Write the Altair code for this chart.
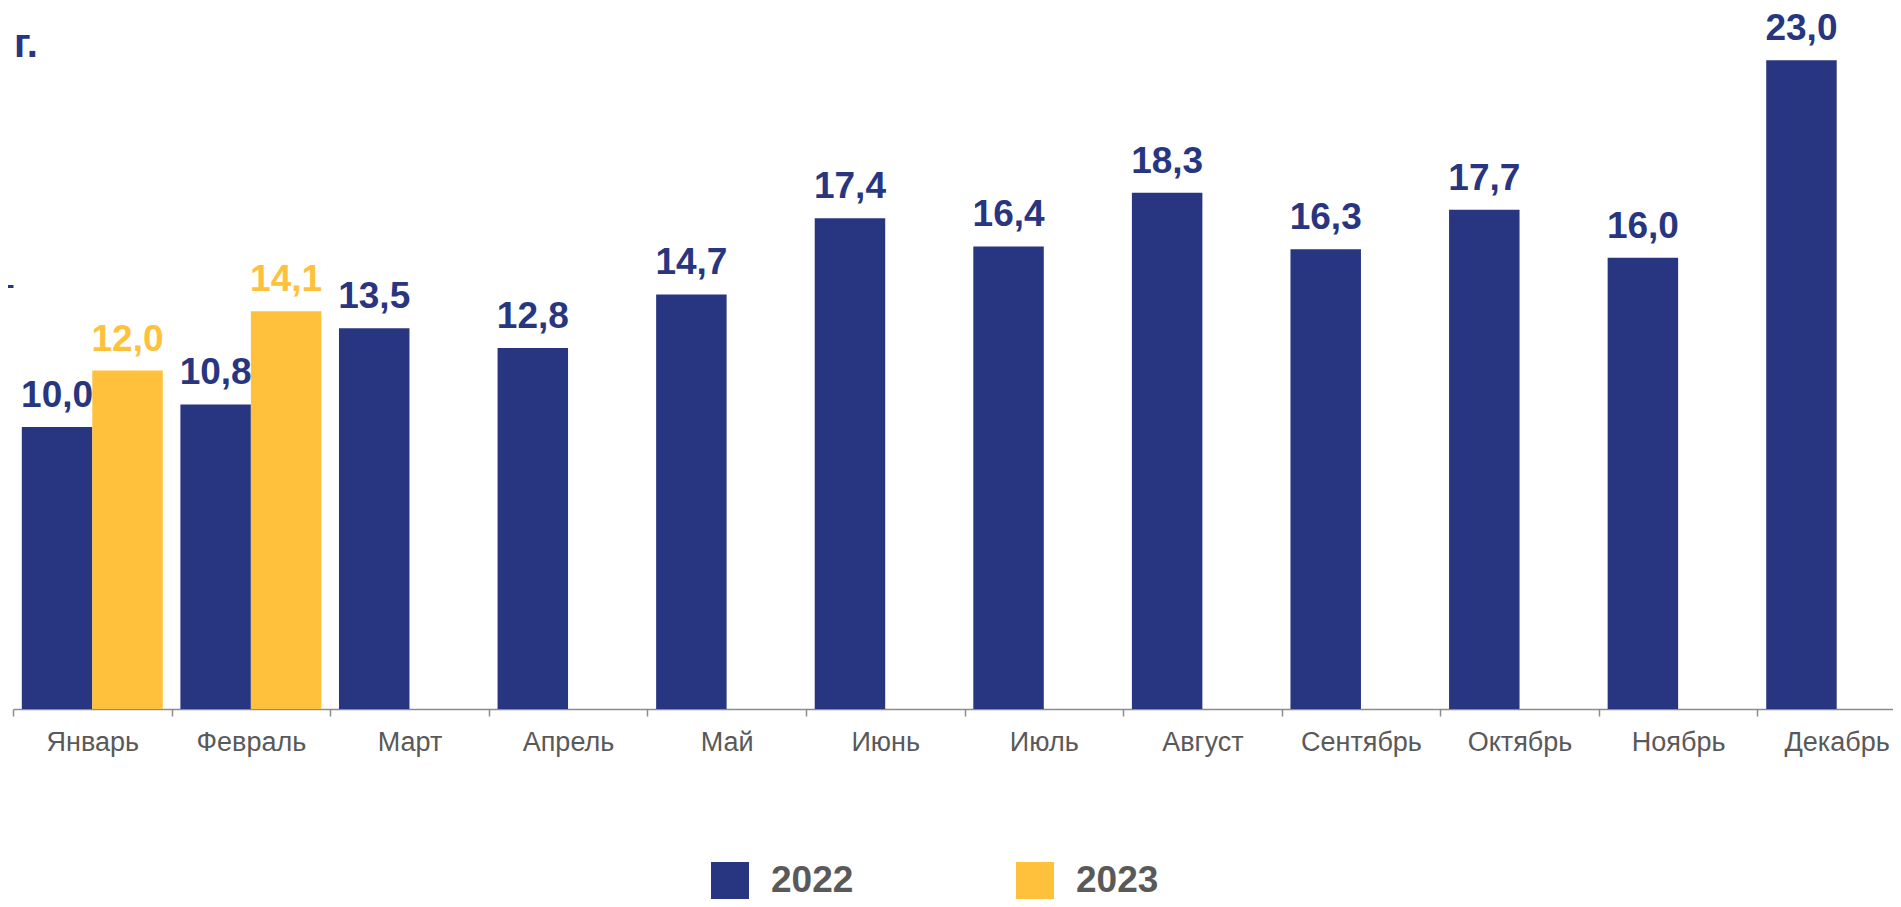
import altair as alt
import pandas as pd

months = ["Январь", "Февраль", "Март", "Апрель", "Май", "Июнь", "Июль",
          "Август", "Сентябрь", "Октябрь", "Ноябрь", "Декабрь"]
values_2022 = [10.0, 10.8, 13.5, 12.8, 14.7, 17.4, 16.4, 18.3, 16.3, 17.7, 16.0, 23.0]
values_2023 = [12.0, 14.1]
years = ["2022", "2023"]
colors = ["#283580", "#FFC13B"]

rows = []
for m, v in zip(months, values_2022):
    rows.append({"month": m, "year": "2022", "value": v})
for m, v in zip(months, values_2023):
    rows.append({"month": m, "year": "2023", "value": v})
df = pd.DataFrame(rows)

x = alt.X(
    "month:N", sort=months,
    scale=alt.Scale(domain=months, range=[0, 1903], paddingInner=0, paddingOuter=0),
    axis=alt.Axis(title=None, labelAngle=0, labelFontSize=27, labelColor="#595959",
                  labelFont="Liberation Sans", labelPadding=13, tickBand="extent",
                  tickSize=7, tickColor="#8c8c8c", tickWidth=1.5,
                  domainColor="#8c8c8c", domainWidth=1.5, grid=False),
)
xo = alt.XOffset("year:N", scale=alt.Scale(domain=years, paddingInner=0, paddingOuter=0.125))
y = alt.Y(
    "value:Q",
    scale=alt.Scale(domain=[0, 24.5], nice=False, zero=True),
    axis=alt.Axis(title=None, values=[15], labels=False, domain=False, grid=False,
                  tickSize=11, tickWidth=3, tickColor="#283580"),
)
legend = alt.Legend(
    title=None, orient="none", legendX=698, legendY=844, direction="horizontal",
    symbolType="square", symbolSize=1444, symbolStrokeWidth=0, symbolOpacity=1,
    labelFontSize=37, labelFont="Liberation Sans", labelFontWeight="bold",
    labelColor="#595959", labelOffset=22, columnPadding=162, padding=0,
)
color = alt.Color("year:N", scale=alt.Scale(domain=years, range=colors), legend=legend)

bars = alt.Chart(df).mark_bar(opacity=1).encode(x=x, xOffset=xo, y=y, color=color)
labels = alt.Chart(df).transform_calculate(
    label="replace(format(datum.value, '.1f'), '.', ',')"
).mark_text(baseline="alphabetic", dy=-20, fontSize=37, fontWeight="bold",
            font="Liberation Sans").encode(x=x, xOffset=xo, y=y, text="label:N", color=color)

chart = alt.layer(bars, labels).properties(
    width=1880, height=691,
    autosize=alt.AutoSizeParams(type="none"),
    padding={"left": 5, "top": 10, "right": 0, "bottom": 190},
    background="white",
    title=alt.TitleParams("г.", anchor="start", frame="group", fontSize=40, fontWeight="bold",
                          color="#283580", font="Liberation Sans", baseline="alphabetic",
                          offset=-48, dy=39, dx=1),
).configure_view(stroke=None)

chart.save("out.html", embed_options={"renderer": "svg", "actions": False})
